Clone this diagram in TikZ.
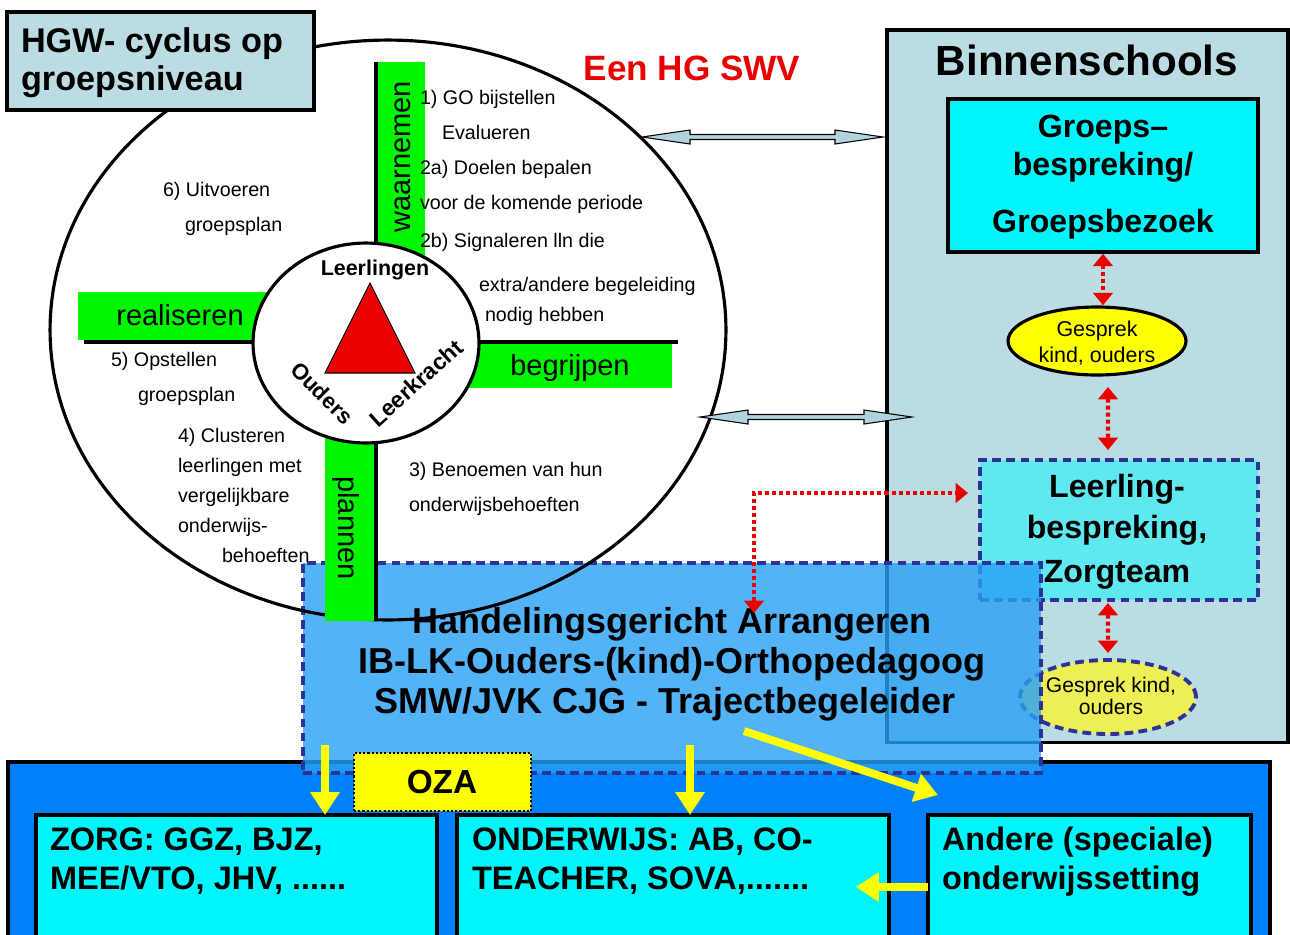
\documentclass[tikz,border=0pt]{standalone}
\usepackage{fontspec}
\setmainfont{Liberation Sans}
\usetikzlibrary{arrows.meta,shapes.geometric,calc}
\definecolor{paleblue}{RGB}{187,220,227}
\definecolor{limec}{RGB}{0,245,0}
\definecolor{cyanbox}{RGB}{0,245,250}
\definecolor{lcyan}{RGB}{95,232,240}
\definecolor{navyc}{RGB}{45,50,150}
\definecolor{bandblue}{RGB}{0,128,250}
\definecolor{hgablue}{RGB}{40,160,245}
\definecolor{yel}{RGB}{255,255,0}
\definecolor{lyel}{RGB}{238,238,85}
\definecolor{redc}{RGB}{235,0,0}
\definecolor{arrfill}{RGB}{175,212,222}
\begin{document}
\begin{tikzpicture}[x=0.02cm,y=-0.02cm,
  every node/.style={inner sep=0pt,outer sep=0pt},
  sm/.style={font=\fontsize{11.2}{13}\selectfont,anchor=west,text height=8pt,text depth=2.4pt},
  solidbox/.style={draw=black,line width=2pt,anchor=north west},
  dashbox/.style={draw=navyc,line width=2.2pt,dash pattern=on 5pt off 3pt},
  reddot/.style={draw=redc,line width=2.3pt,dash pattern=on 2.3pt off 1.7pt,
     {Triangle[width=11pt,length=7pt]}-{Triangle[width=11pt,length=7pt]}},
  yarrow/.style={draw=yel,line width=4.5pt,-{Triangle[width=16pt,length=13pt]}},
  harrow/.style={draw=black,line width=0.6pt,fill=arrfill},
  axisline/.style={draw=black,line width=1.8pt},
  bigb/.style={font=\fontsize{20.5}{24}\selectfont\bfseries,anchor=base},
  botb/.style={font=\fontsize{18.5}{22}\selectfont\bfseries,anchor=base west},
  boxb/.style={font=\fontsize{18.3}{22}\selectfont\bfseries,anchor=base},
  ell/.style={font=\fontsize{12.2}{14}\selectfont,anchor=base},
  phase/.style={font=\fontsize{16.5}{18}\selectfont,anchor=base}
]
\useasboundingbox (0,0) rectangle (1290,934);
\clip (0,0) rectangle (1290,934);
\fill[white] (0,0) rectangle (1290,934);

% bottom band
\node[draw=black,line width=2.5pt,fill=bandblue,anchor=north west,minimum width=25.24cm,minimum height=3.96cm] (band) at (8,762) {};

% Binnenschools
\node[draw=black,line width=1.8pt,fill=paleblue,anchor=north west,minimum width=8.02cm,minimum height=14.26cm] (bin) at (887,30) {};
\node[font=\fontsize{24}{28}\selectfont\bfseries,anchor=base] (bintxt) at (1087,75) {Binnenschools};
\node[solidbox,fill=cyanbox,minimum width=6.2cm,minimum height=3.06cm] (grp) at (948,99) {};
\node[boxb] (g1) at (1103,137) {Groeps–};
\node[boxb] (g2) at (1103,175) {bespreking/};
\node[boxb] (g3) at (1103,232) {Groepsbezoek};
\node[ellipse,draw=black,line width=1.8pt,fill=yel,minimum width=3.56cm,minimum height=1.36cm] (e1) at (1097,341) {};
\node[ell] (e1a) at (1097,336) {Gesprek};
\node[ell] (e1b) at (1097,362) {kind, ouders};
\node[dashbox,fill=lcyan,anchor=north west,minimum width=5.56cm,minimum height=2.8cm] (lb) at (980,460) {};
\node[boxb] (l1) at (1117,497) {Leerling-};
\node[boxb] (l2) at (1117,538) {bespreking,};
\node[boxb] (l3) at (1117,582) {Zorgteam};
\node[ellipse,dashbox,fill=lyel,minimum width=3.52cm,minimum height=1.48cm] (e2) at (1108,697) {};
\node[ell,font=\fontsize{12}{14}\selectfont] (e2a) at (1111,692) {Gesprek kind,};
\node[ell,font=\fontsize{12}{14}\selectfont] (e2b) at (1111,714) {ouders};

% Handelingsgericht arrangeren box
\node[dashbox,fill=hgablue,fill opacity=0.8,anchor=north west,minimum width=14.76cm,minimum height=4.2cm] (hga) at (303,563) {};
\node[bigb] (h1) at (672,633) {Handelingsgericht Arrangeren};
\node[bigb] (h2) at (672,673) {IB-LK-Ouders-(kind)-Orthopedagoog};
\node[bigb] (h3) at (665,713) {SMW/JVK CJG - Trajectbegeleider};

% cycle
\node[ellipse,draw=black,line width=1.8pt,minimum width=13.52cm,minimum height=11.6cm] (cyc) at (388,330) {};
\fill[limec] (377,62) rectangle (425,262);
\fill[limec] (78,292) rectangle (270,340);
\fill[limec] (460,343) rectangle (672,388);
\fill[limec] (325,425) rectangle (375,621);
\draw[axisline] (376,62) -- (376,621);
\draw[axisline] (84,342) -- (678,342);
\node[phase,rotate=90] (waar) at (410,157) {waarnemen};
\node[phase] (real) at (180,325) {realiseren};
\node[phase] (begr) at (570,375) {begrijpen};
\node[phase,rotate=-90] (plan) at (338,528) {plannen};

\node[ellipse,draw=black,line width=1.8pt,fill=white,minimum width=4.52cm,minimum height=4cm] (inner) at (366,343) {};
\draw[fill=redc,line width=0.6pt] (370,283) -- (415,373) -- (325,373) -- cycle;
\node[font=\fontsize{12.2}{14}\selectfont\bfseries,anchor=base] (leer) at (375,275) {Leerlingen};
\node[font=\fontsize{12.6}{14}\selectfont\bfseries,rotate=-45] (oud) at (322,393) {Ouders};
\node[font=\fontsize{13}{14}\selectfont\bfseries,rotate=42] (lkr) at (416,383) {Leerkracht};

% cycle texts
\node[sm] (t1) at (420,100) {1) GO bijstellen};
\node[sm] (t2) at (442,135) {Evalueren};
\node[sm] (t3) at (420,170) {2a) Doelen bepalen};
\node[sm] (t4) at (420,205) {voor de komende periode};
\node[sm] (t5) at (420,243) {2b) Signaleren lln die};
\node[sm] (t6) at (479,287) {extra/andere begeleiding};
\node[sm] (t7) at (485,317) {nodig hebben};
\node[sm] (t8) at (163,192) {6) Uitvoeren};
\node[sm] (t9) at (185,227) {groepsplan};
\node[sm] (t10) at (111,362) {5) Opstellen};
\node[sm] (t11) at (138,397) {groepsplan};
\node[sm] (t12) at (178,438) {4) Clusteren};
\node[sm] (t13) at (178,468) {leerlingen met};
\node[sm] (t14) at (178,498) {vergelijkbare};
\node[sm] (t15) at (178,528) {onderwijs-};
\node[sm] (t16) at (222,558) {behoeften};
\node[sm] (t17) at (409,472) {3) Benoemen van hun};
\node[sm] (t18) at (409,507) {onderwijsbehoeften};

% title
\node[draw=black,line width=1.8pt,fill=paleblue,anchor=north west,minimum width=6.14cm,minimum height=1.96cm] (title) at (7,12) {};
\node[font=\fontsize{19.5}{23}\selectfont\bfseries,anchor=base west] (ti1) at (21,52) {HGW- cyclus op};
\node[font=\fontsize{19.5}{23}\selectfont\bfseries,anchor=base west] (ti2) at (21,90) {groepsniveau};
\node[font=\fontsize{20}{24}\selectfont\bfseries,text=redc,anchor=base] (swv) at (692,80) {Een HG SWV};

% OZA and bottom boxes
\node[draw=black,line width=1.6pt,dash pattern=on 1.2pt off 1.2pt,fill=yel,anchor=north west,minimum width=3.54cm,minimum height=1.16cm] (oza) at (354,753) {};
\node[font=\fontsize{19}{22}\selectfont\bfseries,anchor=base] (ozat) at (442,793) {OZA};
\node[solidbox,fill=cyanbox,minimum width=8.02cm,minimum height=2.92cm] (zorg) at (36,815) {};
\node[solidbox,fill=cyanbox,minimum width=8.64cm,minimum height=2.92cm] (ond) at (457,815) {};
\node[solidbox,fill=cyanbox,minimum width=6.46cm,minimum height=2.92cm] (and) at (928,815) {};
\node[botb] (z1) at (50,850) {ZORG: GGZ, BJZ,};
\node[botb] (z2) at (50,889) {MEE/VTO, JHV, ......};
\node[botb] (o1) at (472,850) {ONDERWIJS: AB, CO-};
\node[botb] (o2) at (472,889) {TEACHER, SOVA,.......};
\node[botb] (a1) at (942,850) {Andere (speciale)};
\node[botb] (a2) at (942,889) {onderwijssetting};

% hollow double arrows
\coordinate (ha1) at (642,137);
\coordinate (ha2) at (883,137);
\coordinate (hb1) at (700,417);
\coordinate (hb2) at (912,417);
\draw[harrow] (ha1) -- ++(48,-7) -- ++(0,4.5) -- ($(ha2)+(-48,-2.5)$) -- ++(0,-4.5) -- (ha2)
   -- ++(-48,7) -- ++(0,-4.5) -- ($(ha1)+(48,2.5)$) -- ++(0,4.5) -- cycle;
\draw[harrow] (hb1) -- ++(48,-7) -- ++(0,4.5) -- ($(hb2)+(-48,-2.5)$) -- ++(0,-4.5) -- (hb2)
   -- ++(-48,7) -- ++(0,-4.5) -- ($(hb1)+(48,2.5)$) -- ++(0,4.5) -- cycle;

% red dotted arrows
\draw[reddot,shorten <=1pt,shorten >=1pt] (grp.south) -- (grp.south |- e1.north);
\draw[reddot] ($(e1.south)+(11,12)$) -- ($(lb.north)+(-11,-10)$);
\draw[reddot] ($(lb.south)+(-11,3)$) -- ($(e2.north)+(0,-7)$);
\coordinate (lstart) at (754,613);
\draw[reddot] (lstart) |- ($(lb.west)+(-12,-37)$);

% yellow arrows
\coordinate (y1) at (325,745);
\coordinate (y2) at (690,745);
\coordinate (y3) at (744,731);
\draw[yarrow] (y1) -- (y1 |- zorg.north);
\draw[yarrow] (y2) -- (y2 |- ond.north);
\draw[yarrow] (y3) -- ($(and.north west)+(10,-20)$);
\draw[yarrow] ($(and.west)+(0,-1)$) -- ($(ond.east)+(-33,-1)$);
\end{tikzpicture}
\end{document}
